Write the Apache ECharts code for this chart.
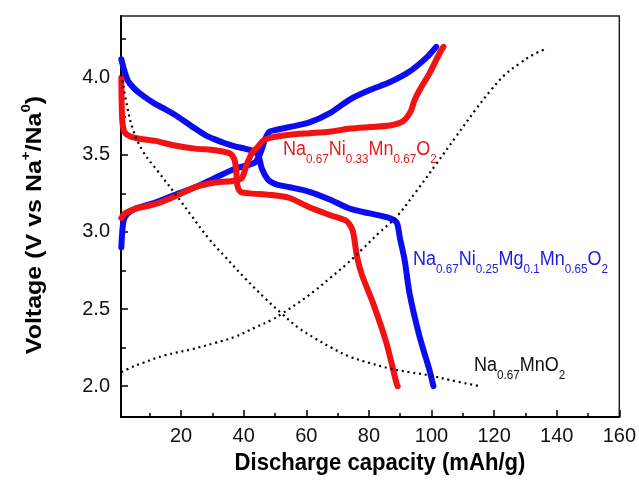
<!DOCTYPE html>
<html>
<head>
<meta charset="utf-8">
<script src="https://cdn.jsdelivr.net/npm/echarts@6/dist/echarts.min.js"></script>
<style>html,body{margin:0;padding:0;background:#fff}#c{width:639px;height:482px}</style>
</head>
<body>
<div id="c"></div>
<script>
// ---- data (x: discharge capacity mAh/g, y: voltage V) ----
const blueDischarge = [[0.9,4.12],[1.8,4.05],[3,3.98],[5,3.93],[8,3.88],[11.7,3.83],[15,3.795],[18,3.76],[21.3,3.715],[24.5,3.67],[27.6,3.63],[30.8,3.60],[34,3.575],[37.2,3.555],[40.4,3.54],[43.6,3.52],[44.8,3.49],[45.8,3.41],[47.7,3.34],[50,3.31],[52.1,3.30],[54.7,3.29],[61,3.26],[67.5,3.21],[74,3.15],[80.3,3.12],[86.6,3.09],[88.9,3.06],[89.9,2.96],[91.4,2.82],[93,2.60],[96.2,2.32],[99.4,2.10],[100.6,2.0]];
const blueCharge = [[0.9,2.90],[1.2,3.00],[1.7,3.08],[3,3.12],[5.3,3.15],[11.7,3.19],[18,3.24],[24.5,3.29],[30.8,3.35],[37.2,3.41],[43.6,3.45],[45.5,3.52],[46.8,3.60],[48.2,3.65],[50,3.66],[54.7,3.68],[61,3.71],[67.5,3.77],[74,3.86],[80.3,3.92],[86.6,3.97],[93,4.04],[98.4,4.13],[101.5,4.20]];
const redDischarge = [[0.9,4.00],[1.0,3.85],[1.3,3.70],[2.2,3.64],[5.3,3.61],[11.7,3.59],[18,3.56],[24.5,3.54],[30.8,3.53],[35.5,3.51],[37,3.47],[37.6,3.40],[38,3.30],[39,3.26],[42,3.25],[48.4,3.24],[54.7,3.22],[61,3.16],[67.5,3.11],[72.9,3.07],[74.8,3.01],[76.2,2.84],[77.8,2.72],[81.3,2.54],[85.6,2.28],[88.8,2.02],[89.2,2.0]];
const redCharge = [[0.9,3.09],[2,3.12],[5.3,3.15],[11.7,3.18],[18,3.23],[24.5,3.29],[30.8,3.32],[36.3,3.33],[39.4,3.35],[41,3.44],[42.6,3.51],[44.5,3.55],[46.1,3.59],[48.4,3.61],[54.7,3.63],[61,3.64],[67.5,3.65],[74,3.67],[80.3,3.68],[86.6,3.69],[91,3.72],[93.3,3.78],[94.5,3.85],[96.2,3.92],[99.4,4.03],[102.6,4.16],[103.8,4.20]];
const mnDischarge = [[0.9,4.02],[2.8,3.81],[4.7,3.66],[7.9,3.52],[12.7,3.39],[18,3.25],[23.5,3.10],[28.7,2.96],[34,2.84],[40.4,2.70],[46.8,2.57],[52.2,2.47],[57.4,2.38],[62.8,2.31],[68,2.25],[74,2.19],[80.3,2.15],[86.6,2.115],[93,2.09],[99.4,2.07],[105.8,2.04],[115.3,2.0]];
const mnCharge = [[0.9,2.09],[2.8,2.11],[7.6,2.15],[14.9,2.20],[23.5,2.24],[30.8,2.28],[37.2,2.32],[43.6,2.38],[49,2.43],[52.2,2.47],[57.4,2.54],[62.8,2.62],[67.5,2.70],[72.8,2.79],[78,2.89],[83,2.99],[88.9,3.10],[95,3.26],[101.5,3.44],[107.9,3.62],[114,3.79],[119,3.92],[123.5,4.02],[128,4.09],[132.5,4.15],[137,4.19]];

const xMajorTicks = [20,40,60,80,100,120,140,160];
const xMinorTicks = [10,30,50,70,90,110,130,150];
const yMajorTicks = [2.0,2.5,3.0,3.5,4.0];
const yMinorTicks = [2.25,2.75,3.25,3.75,4.25];

const labelRed = ['Na','0.67','Ni','0.33','Mn','0.67','O','2'];
const labelBlue = ['Na','0.67','Ni','0.25','Mg','0.1','Mn','0.65','O','2'];
const labelBlack = ['Na','0.67','MnO','2'];

const F = '"Liberation Sans", Arial, Helvetica, sans-serif';
const BLUE = '#0c0cf2', RED = '#f21212';

function chem(parts){ return parts.map((p,i)=> (i%2===0? '{m|'+p+'}' : '{s|'+p+'}')).join(''); }
function chemRich(color){
  return {
    m:{fontSize:20, fontFamily:F, fill:color, lineHeight:20, verticalAlign:'top'},
    s:{fontSize:13, fontFamily:F, fill:color, lineHeight:13, padding:[14,0,0,0], verticalAlign:'top'}
  };
}

const chart = echarts.init(document.getElementById('c'), null, {renderer:'canvas'});
const axisTxt = {fontSize:20, fontFamily:F, color:'#111'};
const lineSeries = (data, color, width, type, z, smooth, cap) => ({
  type:'line', data, showSymbol:false, smooth, z,
  lineStyle:{color, width, type, cap, join:'round'}
});

chart.setOption({
  animation:false,
  backgroundColor:'#fff',
  grid:{left:121, top:16, right:19, bottom:65, show:true, borderColor:'#222', borderWidth:1.5, backgroundColor:'transparent'},
  xAxis:[
    {type:'value', min:0.8, max:160, position:'bottom',
     axisLine:{show:true, lineStyle:{color:'#000', width:2}},
     axisTick:{show:true, inside:true, length:7, lineStyle:{color:'#000', width:1.5}, customValues:xMajorTicks},
     axisLabel:{show:true, margin:9, customValues:xMajorTicks, ...axisTxt},
     splitLine:{show:false}},
    {type:'value', min:0.8, max:160, position:'bottom',
     axisLine:{show:false},
     axisTick:{show:true, inside:true, length:4, lineStyle:{color:'#000', width:1.5}, customValues:xMinorTicks},
     axisLabel:{show:false}, splitLine:{show:false}}
  ],
  yAxis:[
    {type:'value', min:1.8, max:4.4, position:'left',
     axisLine:{show:true, lineStyle:{color:'#000', width:2}},
     axisTick:{show:true, inside:true, length:7, lineStyle:{color:'#000', width:1.5}, customValues:yMajorTicks},
     axisLabel:{show:true, margin:11, customValues:yMajorTicks, formatter:v=>v.toFixed(1), ...axisTxt},
     splitLine:{show:false}},
    {type:'value', min:1.8, max:4.4, position:'left',
     axisLine:{show:false},
     axisTick:{show:true, inside:true, length:5, lineStyle:{color:'#000', width:1.5}, customValues:yMinorTicks},
     axisLabel:{show:false}, splitLine:{show:false}}
  ],
  series:[
    lineSeries(blueDischarge, BLUE, 6, 'solid', 2, 0.25, 'round'),
    lineSeries(blueCharge, BLUE, 6, 'solid', 2, 0.25, 'round'),
    lineSeries(redDischarge, RED, 6, 'solid', 3, 0.25, 'round'),
    lineSeries(redCharge, RED, 6, 'solid', 3, 0.25, 'round'),
    lineSeries(mnDischarge, '#000', 2.2, [2,3.8], 4, 0.4, 'butt'),
    lineSeries(mnCharge, '#000', 2.2, [2,3.8], 4, 0.4, 'butt')
  ],
  graphic:[
    {type:'text', x:283, y:139, scaleX:0.9, z:10, style:{text:chem(labelRed), rich:chemRich('#e01c1c'), align:'left', verticalAlign:'top', fill:'#e01c1c'}},
    {type:'text', x:413, y:249, scaleX:0.9, z:10, style:{text:chem(labelBlue), rich:chemRich('#1c1ce0'), align:'left', verticalAlign:'top', fill:'#1c1ce0'}},
    {type:'text', x:474, y:355, scaleX:0.9, z:10, style:{text:chem(labelBlack), rich:chemRich('#111'), align:'left', verticalAlign:'top', fill:'#111'}},
    {type:'text', x:380, y:463, scaleX:0.92, z:10, style:{text:'Discharge capacity (mAh/g)', font:'bold 24px '+F, fill:'#000', align:'center', verticalAlign:'middle'}},
    {type:'text', x:33, y:225, rotation:Math.PI/2, scaleY:0.9, z:10, style:{
      text:'{b|Voltage (V vs Na}{p|+}{b|/Na}{p|0}{b|)}', align:'center', verticalAlign:'middle', fill:'#000',
      rich:{b:{fontSize:25, fontWeight:'bold', fontFamily:F, fill:'#000', lineHeight:29, verticalAlign:'bottom'},
            p:{fontSize:15, fontWeight:'bold', fontFamily:F, fill:'#000', lineHeight:15, verticalAlign:'top'}}}}
  ]
});
</script>
</body>
</html>
